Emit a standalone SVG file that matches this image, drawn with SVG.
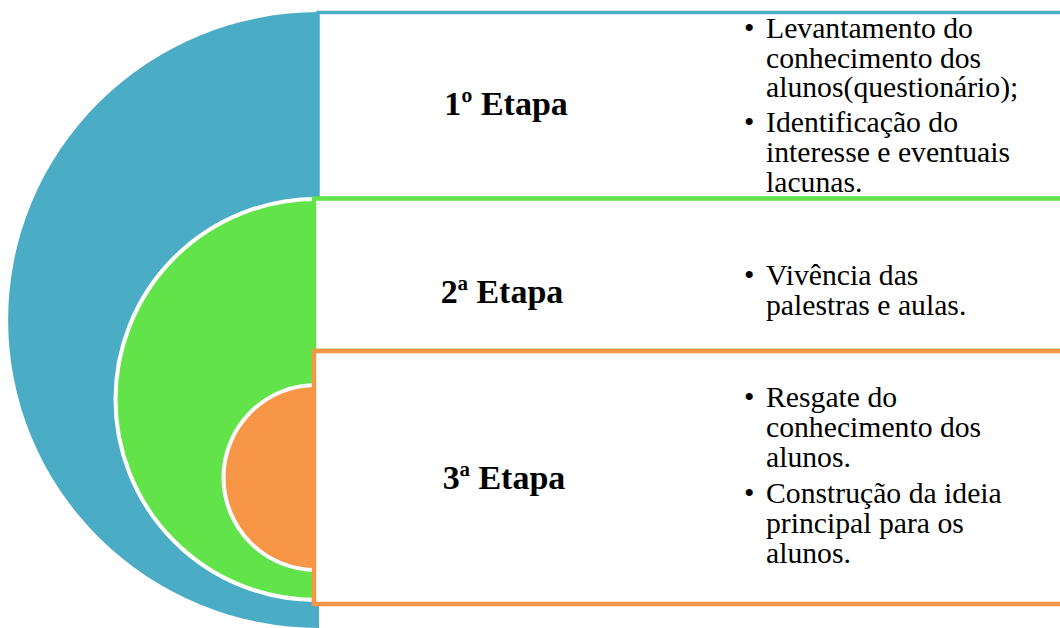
<svg xmlns="http://www.w3.org/2000/svg" width="1060" height="628" viewBox="0 0 1060 628">
  <style>
    .head { font-family: "Liberation Serif", "Times New Roman", serif; font-weight: bold; font-size: 34px; fill: #000; text-anchor: middle; }
    .body { font-family: "Liberation Serif", "Times New Roman", serif; font-size: 29.7px; fill: #000; }
    .box { fill: #ffffff; }
    .ring { stroke: #ffffff; stroke-width: 4; }
  </style>
  <rect width="1060" height="628" fill="#ffffff"/>
  <g id="stage1">
    <path d="M 319 12 A 311 308 0 0 0 319 628 Z" fill="#4BACC6"/>
    <rect class="box" x="318" y="12.5" width="760" height="186" stroke="#4BACC6" stroke-width="3.5"/>
    <text class="head" x="506" y="115">1º Etapa</text>
    <text class="body" x="744" y="37.5">•</text>
    <text class="body"><tspan x="766" y="37.5">Levantamento do</tspan><tspan x="766" y="67.5">conhecimento dos</tspan><tspan x="766" y="97">alunos(questionário);</tspan></text>
    <text class="body" x="744" y="132">•</text>
    <text class="body"><tspan x="766" y="132">Identificação do</tspan><tspan x="766" y="162">interesse e eventuais</tspan><tspan x="766" y="192">lacunas.</tspan></text>
  </g>
  <g id="stage2">
    <circle class="ring" cx="316" cy="399.5" r="200.5" fill="#62E34A"/>
    <rect class="box" x="314" y="198.5" width="760" height="152.5" stroke="#62E34A" stroke-width="4.5"/>
    <text class="head" x="502" y="303">2ª Etapa</text>
    <text class="body" x="744" y="285">•</text>
    <text class="body"><tspan x="766" y="285">Vivência das</tspan><tspan x="766" y="315">palestras e aulas.</tspan></text>
  </g>
  <g id="stage3">
    <circle class="ring" cx="316" cy="477.5" r="92.5" fill="#F79646"/>
    <rect class="box" x="314" y="351" width="760" height="253" stroke="#F79646" stroke-width="4.5"/>
    <text class="head" x="504" y="489">3ª Etapa</text>
    <text class="body" x="744" y="407">•</text>
    <text class="body"><tspan x="766" y="407">Resgate do</tspan><tspan x="766" y="437">conhecimento dos</tspan><tspan x="766" y="467">alunos.</tspan></text>
    <text class="body" x="744" y="503">•</text>
    <text class="body"><tspan x="766" y="503">Construção da ideia</tspan><tspan x="766" y="533">principal para os</tspan><tspan x="766" y="563">alunos.</tspan></text>
  </g>
  <g id="connectors"/>
</svg>
